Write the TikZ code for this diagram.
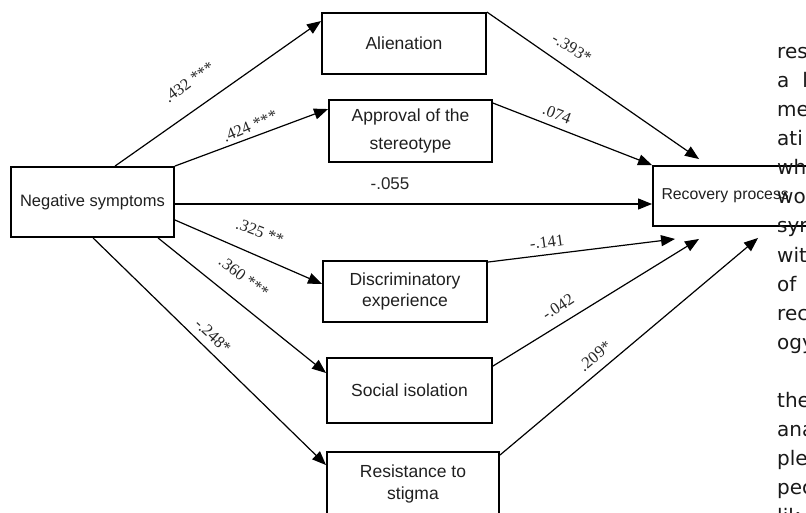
\documentclass[tikz,border=0pt]{standalone}
\usepackage{fontspec}
\setmainfont{Liberation Serif}
\setsansfont{Liberation Sans}
\newfontfamily\sidefont{DejaVu Sans}
\usetikzlibrary{arrows.meta,calc}
\begin{document}
\begin{tikzpicture}[x=1pt,y=-1pt,
  box/.style={draw, line width=1.9pt, rectangle, inner sep=0pt, align=center,
    font=\sffamily\fontsize{17.5}{21}\selectfont, text=black!88},
  conn/.style={line width=1.2pt, -{Triangle[length=14pt,width=11pt]}},
  lab/.style={inner sep=0pt, font=\fontsize{16.5}{16.5}\selectfont, text=black!85},
  side/.style={anchor=base west, inner sep=0pt, font=\sidefont\fontsize{20}{20}\selectfont, text=black!90}]
\useasboundingbox (0,0) rectangle (806,513);

% boxes
\node[box, minimum width=163pt, minimum height=70pt, font=\sffamily\fontsize{16.5}{18}\selectfont] (neg) at (92.5,202) {Negative symptoms};
\node[box, minimum width=164pt, minimum height=61pt] (ali) at (404,43.5) {Alienation};
\node[box, minimum width=163pt, minimum height=62pt, font=\sffamily\fontsize{17.5}{28}\selectfont] (app) at (410.5,131) {Approval of the\\stereotype};
\node[box, minimum width=164pt, minimum height=61pt] (disc) at (405,291.5) {Discriminatory\\experience};
\node[box, minimum width=165pt, minimum height=65pt] (soc) at (409.5,390.5) {Social isolation};
\node[box, minimum width=172pt, minimum height=64pt, font=\sffamily\fontsize{17.5}{22}\selectfont] (res) at (413,484) {Resistance to\\stigma};
\node[box, minimum width=177pt, minimum height=60pt, text width=160pt, inner xsep=8.5pt, align=left, font=\sffamily\fontsize{15.8}{18}\selectfont] (rec) at (741.5,196) {Recovery process};

% connectors
\draw[conn] ($(neg.north west)+(105,0)$) -- ($(ali.north west)+(0,9)$);
\draw[conn] (neg.north east) -- ($(app.north west)+(0,10)$);
\draw[conn] ($(neg.east)+(0,2)$) -- ($(rec.west)+(0,8)$);
\draw[conn] ($(neg.east)+(0,18)$) -- ($(disc.west)+(0,-7.5)$);
\draw[conn] ($(neg.south west)+(148,0)$) -- ($(soc.west)+(0,-17.5)$);
\draw[conn] ($(neg.south west)+(83,0)$) -- ($(res.north west)+(0,14)$);
\draw[conn] (ali.north east) -- ($(rec.north west)+(47,-6)$);
\draw[conn] ($(app.north east)+(0,4)$) -- (rec.north west);
\draw[conn] ($(disc.north east)+(0,2)$) -- ($(rec.south west)+(23,12)$);
\draw[conn] ($(soc.north east)+(0,9)$) -- ($(rec.south west)+(47,12)$);
\draw[conn] ($(res.north east)+(0,4)$) -- ($(rec.south west)+(106,11)$);

% labels
\node[lab, rotate=36] (l1) at (189,82) {.432 ***};
\node[lab, rotate=23] (l2) at (250,126) {.424 ***};
\node[lab, font=\sffamily\fontsize{17}{17}\selectfont] (l3) at (390,184) {-.055};
\node[lab, rotate=-21] (l4) at (260,232) {.325 **};
\node[lab, rotate=-37] (l5) at (244,277) {.360 ***};
\node[lab, rotate=-43] (l6) at (213,336) {-.248*};
\node[lab, rotate=-31] (l7) at (572,48) {-.393*};
\node[lab, rotate=-21] (l8) at (557,114) {.074};
\node[lab, rotate=8] (l9) at (547,242) {-.141};
\node[lab, rotate=33] (l10) at (558,307) {-.042};
\node[lab, rotate=40] (l11) at (595,356) {.209*};

% side text
\node[side] (s1) at (777,59) {res};
\node[side] (s2) at (777,88) {a\hspace{13pt}l};
\node[side] (s3) at (777,117) {me};
\node[side] (s4) at (777,146) {ati};
\node[side] (s5) at (777,175) {wh};
\node[side] (s6) at (777,204) {wo};
\node[side] (s7) at (777,233) {syr};
\node[side] (s8) at (777,262) {wit};
\node[side] (s9) at (777,291) {of};
\node[side] (s10) at (777,320) {rec};
\node[side] (s11) at (777,349) {ogy};
\node[side] (s12) at (777,407) {the};
\node[side] (s13) at (777,436) {ana};
\node[side] (s14) at (777,465) {ple};
\node[side] (s15) at (777,494) {pec};
\node[side] (s16) at (777,523) {lik};
\end{tikzpicture}
\end{document}
